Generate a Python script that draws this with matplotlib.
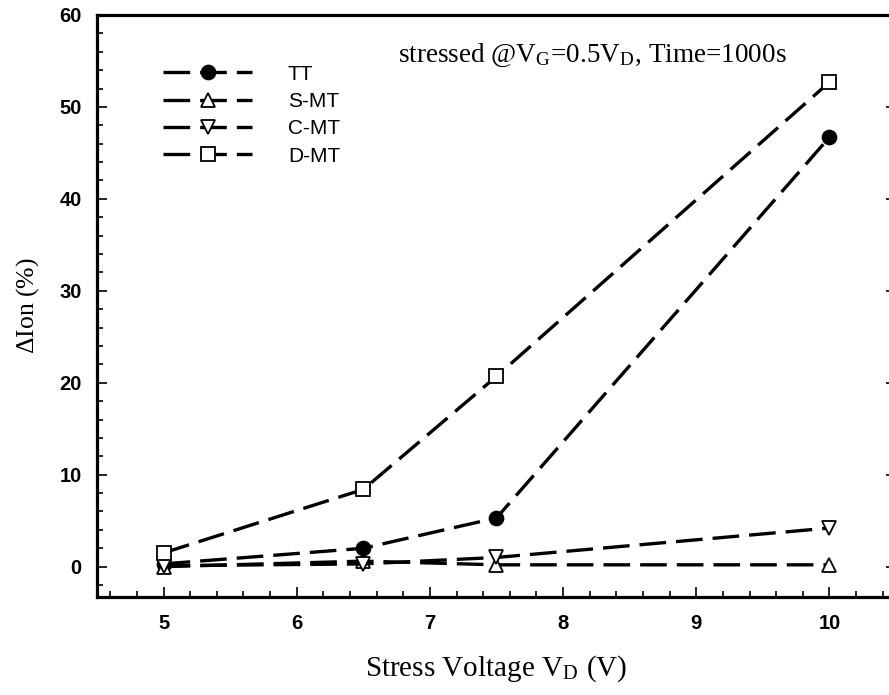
import matplotlib
matplotlib.use("Agg")
import matplotlib.pyplot as plt
from matplotlib.ticker import MultipleLocator

voltage = [5, 6.5, 7.5, 10]
tt = [0.3, 2.0, 5.3, 46.7]
smt = [0.0, 0.6, 0.2, 0.2]
cmt = [0.1, 0.3, 1.0, 4.2]
dmt = [1.5, 8.4, 20.7, 52.7]
series_labels = ["TT", "S-MT", "C-MT", "D-MT"]

plt.rcParams['mathtext.fontset'] = 'stix'

fig = plt.figure(figsize=(8.89, 6.95), dpi=100)
ax = fig.add_axes([97/889, 1-597/695, (896-97)/889, (597-15)/695])

dash = (8, 3)
common = dict(color='black', lw=2.4, dashes=dash, markersize=10, markeredgewidth=1.3)
ax.plot(voltage, tt, marker='o', mfc='black', label=series_labels[0], **common)
ax.plot(voltage, smt, marker='^', mfc='white', label=series_labels[1], **common)
ax.plot(voltage, cmt, marker='v', mfc='white', label=series_labels[2], **common)
ax.plot(voltage, dmt, marker='s', mfc='white', label=series_labels[3], **common)

ax.set_xlim(4.5, 10.5)
ax.set_ylim(-3.3, 60)
ax.xaxis.set_major_locator(MultipleLocator(1))
ax.xaxis.set_minor_locator(MultipleLocator(0.2))
ax.yaxis.set_major_locator(MultipleLocator(10))
ax.yaxis.set_minor_locator(MultipleLocator(2))
ax.tick_params(which='both', direction='in', top=False, right=True, width=1.2)
ax.tick_params(which='major', length=7)
ax.tick_params(which='minor', length=4)
ax.tick_params(axis='x', which='major', pad=12)
ax.tick_params(axis='y', which='major', pad=11)
for lab in ax.get_xticklabels() + ax.get_yticklabels():
    lab.set_fontfamily('Liberation Sans')
    lab.set_fontweight('bold')
    lab.set_fontsize(14.5)
for s in ax.spines.values():
    s.set_linewidth(2.3)

ax.set_xlabel(r"Stress Voltage V$_\mathregular{D}$ (V)", fontfamily='Liberation Serif', fontsize=21, labelpad=15)
ax.set_ylabel(r"$\mathregular{\Delta}$Ion (%)", fontfamily='Liberation Serif', fontsize=18.5, labelpad=13)

fig.text(398/889, 1-55/695, r"stressed @V$_\mathregular{G}$=0.5V$_\mathregular{D}$, Time=1000s",
         fontfamily='Liberation Serif', fontsize=19.5, va='center', ha='left')

leg = ax.legend(loc='upper left', bbox_to_anchor=(0.072, 0.929), frameon=False,
                prop={'family': 'Liberation Sans', 'size': 15}, handlelength=4.3,
                handletextpad=1.7, labelspacing=0.4, borderaxespad=0)

fig.savefig("out.png", dpi=100)
